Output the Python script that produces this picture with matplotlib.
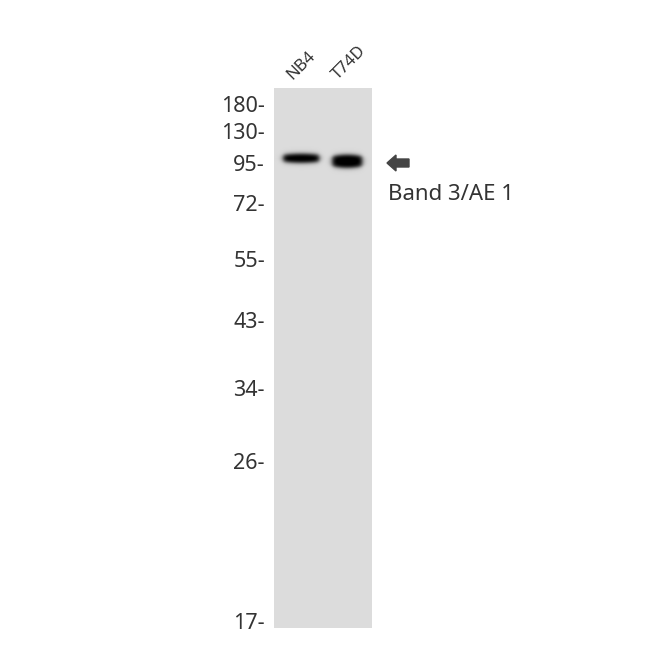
import numpy as np
import matplotlib
matplotlib.use("Agg")
import matplotlib.pyplot as plt
from matplotlib.patches import Polygon

# marker ladder (kDa) and where each sits on the blot (pixel rows)
mw_labels = ["180", "130", "95", "72", "55", "43", "34", "26", "17"]
mw_rows = [104, 131, 163, 203, 259, 320, 388, 461, 621]

lanes = ["NB4", "T74D"]
lane_x = [301, 347]
band_row = [158, 161]
band_width = [36, 30]
band_height = [9, 13]
band_strength = [1.0, 1.0]

target = "Band 3/AE 1"

gel_left, gel_right = 274, 372
gel_top, gel_bottom = 88, 628

plt.rcParams['font.family'] = ['Noto Sans', 'DejaVu Sans']

fig = plt.figure(figsize=(6.5, 6.5), dpi=100)
ax = fig.add_axes([0, 0, 1, 1])
ax.set_xlim(0, 650)
ax.set_ylim(650, 0)
ax.axis('off')

# build the gel picture
xx, yy = np.meshgrid(np.arange(gel_left, gel_right, 0.5),
                     np.arange(gel_top, gel_bottom, 0.5))
dark = np.zeros_like(xx)
for cx, cy, w, h, s in zip(lane_x, band_row, band_width, band_height, band_strength):
    # band gets a bit fatter in the middle, thinner at the ends
    u = np.clip((xx - cx) / (w / 2), -1.5, 1.5)
    hh = h * (1 - 0.25 * u ** 2)
    fx = 1 / (1 + np.exp((np.abs(xx - cx) - w / 2) / 1.5))
    fy = 1 / (1 + np.exp((np.abs(yy - cy) - hh / 2) / 1.2))
    dark = np.maximum(dark, s * fx * fy)
bg = 0.862
img = bg * (1 - np.clip(dark * 1.05, 0, 1))
ax.imshow(img, cmap='gray', vmin=0, vmax=1,
          extent=[gel_left, gel_right, gel_bottom, gel_top],
          interpolation='bilinear', aspect='auto')

for lab, row in zip(mw_labels, mw_rows):
    ax.text(265, row, lab + "-", ha='right', va='center_baseline', fontsize=15.5,
            color='#333333')

for lab, cx in zip(lanes, lane_x):
    ax.text(cx - 9, 80, lab, rotation=45, ha='left', va='baseline',
            fontsize=12, color='#333333', rotation_mode='anchor')

# arrow pointing at the band
ay = 163
arrow = Polygon([[387, ay], [396, ay - 8], [396, ay - 4], [409, ay - 4],
                 [409, ay + 4], [396, ay + 4], [396, ay + 8]],
                closed=True, color='#444444')
ax.add_patch(arrow)
ax.text(388, 192, target, ha='left', va='center_baseline', fontsize=16,
        color='#333333')

fig.savefig("out.png", dpi=100)
